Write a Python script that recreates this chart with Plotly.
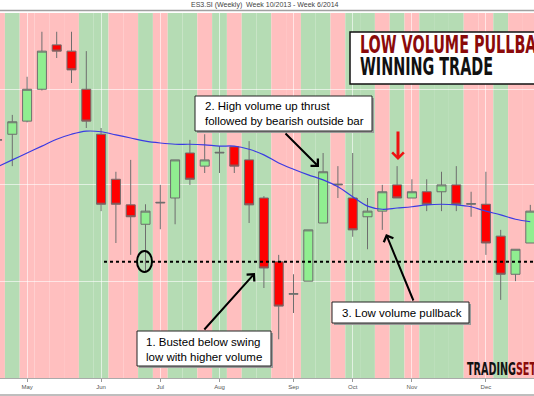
import plotly.graph_objects as go
import pandas as pd

# ---------------- data (weekly, Friday dates) ----------------
week_dates = [
    "2013-04-19", "2013-04-26", "2013-05-03", "2013-05-10", "2013-05-17", "2013-05-24",
    "2013-05-31", "2013-06-07", "2013-06-14", "2013-06-21", "2013-06-28", "2013-07-05",
    "2013-07-12", "2013-07-19", "2013-07-26", "2013-08-02", "2013-08-09", "2013-08-16",
    "2013-08-23", "2013-08-30", "2013-09-06", "2013-09-13", "2013-09-20", "2013-09-27",
    "2013-10-04", "2013-10-11", "2013-10-18", "2013-10-25", "2013-11-01", "2013-11-08",
    "2013-11-15", "2013-11-22", "2013-11-29", "2013-12-06", "2013-12-13", "2013-12-20",
    "2013-12-27",
]
opens = [3.377, 3.386, 3.407, 3.458, 3.529, 3.519, 3.458, 3.386, 3.314, 3.273, 3.242,
         3.276, 3.284, 3.356, 3.335, 3.356, 3.366, 3.345, 3.284, 3.182, 3.130, 3.151,
         3.244, 3.305, 3.284, 3.254, 3.263, 3.305, 3.284, 3.294, 3.294, 3.305, 3.274,
         3.274, 3.223, 3.162, 3.212]
highs = [3.390, 3.417, 3.478, 3.550, 3.550, 3.550, 3.519, 3.396, 3.326, 3.345, 3.274,
         3.305, 3.345, 3.377, 3.386, 3.367, 3.366, 3.375, 3.287, 3.193, 3.162, 3.233,
         3.356, 3.335, 3.356, 3.284, 3.305, 3.335, 3.314, 3.314, 3.326, 3.335, 3.294,
         3.326, 3.233, 3.202, 3.273]
lows = [3.360, 3.335, 3.405, 3.456, 3.508, 3.468, 3.396, 3.263, 3.212, 3.193, 3.167,
        3.234, 3.242, 3.305, 3.324, 3.324, 3.324, 3.244, 3.140, 3.058, 3.100, 3.151,
        3.244, 3.284, 3.222, 3.202, 3.233, 3.284, 3.284, 3.263, 3.263, 3.263, 3.254,
        3.193, 3.121, 3.151, 3.212]
closes = [3.377, 3.406, 3.458, 3.519, 3.519, 3.489, 3.407, 3.274, 3.274, 3.254, 3.263,
          3.277, 3.345, 3.314, 3.345, 3.357, 3.335, 3.273, 3.172, 3.111, 3.131, 3.233,
          3.326, 3.306, 3.233, 3.263, 3.294, 3.284, 3.294, 3.274, 3.305, 3.274, 3.275,
          3.212, 3.162, 3.202, 3.263]
ma_values = [3.334, 3.345, 3.356, 3.367, 3.378, 3.386, 3.391, 3.390, 3.385, 3.380, 3.375,
             3.372, 3.370, 3.370, 3.369, 3.367, 3.367, 3.362, 3.353, 3.340, 3.330, 3.321,
             3.313, 3.302, 3.286, 3.271, 3.266, 3.268, 3.270, 3.273, 3.274, 3.273, 3.270,
             3.263, 3.257, 3.250, 3.246]
volume_up = [0, 1, 0, 0, 0, 0, 1, 1, 0, 0, 1, 0, 1, 1, 0, 1, 0, 1, 1, 0, 0, 1, 1, 0,
             1, 1, 0, 1, 0, 1, 1, 1, 0, 0, 1, 0, 0]
month_ticks = ["2013-05-03", "2013-06-07", "2013-07-05", "2013-08-02",
               "2013-09-06", "2013-10-04", "2013-11-01", "2013-12-06"]
month_labels = ["May", "Jun", "Jul", "Aug", "Sep", "Oct", "Nov", "Dec"]
price_grid = [3.151, 3.305, 3.458]
swing_low = 3.182
y_range = [2.996, 3.580]

# ---------------- layout helpers ----------------
W, H = 534, 396
PT, PB = 13, 18
PH = H - PT - PB


def px(x):
    return x / W


def py(y):
    return (H - PB - y) / PH


PINK = "#FFBFBF"
GREEN = "#B5DCB4"
NARROW = "Liberation Sans Narrow, DejaVu Sans Condensed, Roboto Condensed, Arial Narrow, Liberation Sans, sans-serif"
BODY = "Liberation Sans, Arial, sans-serif"

fig = go.Figure()

fig.add_trace(go.Candlestick(
    x=week_dates, open=opens, high=highs, low=lows, close=closes,
    increasing=dict(fillcolor="#90EE90", line=dict(color="#6E6E6E", width=1)),
    decreasing=dict(fillcolor="#FF0000", line=dict(color="#6E6E6E", width=1)),
    whiskerwidth=0, showlegend=False, hoverinfo="skip",
))
fig.add_trace(go.Scatter(
    x=week_dates, y=ma_values, mode="lines",
    line=dict(color="#3B3BE3", width=1.2, shape="spline"),
    showlegend=False, hoverinfo="skip",
))

shapes = []
half_week = pd.Timedelta(days=3.5)
for d, up in zip(week_dates, volume_up):
    t = pd.Timestamp(d)
    shapes.append(dict(type="rect", xref="x", yref="paper", x0=t - half_week, x1=t + half_week,
                       y0=0, y1=1, fillcolor=GREEN if up else PINK, line=dict(width=0),
                       layer="below"))

# frame lines
shapes.append(dict(type="line", xref="paper", yref="paper", x0=0, x1=1, y0=py(10.5), y1=py(10.5),
                   line=dict(color="#A0A0A0", width=1.5)))
shapes.append(dict(type="line", xref="paper", yref="paper", x0=0, x1=1, y0=py(395), y1=py(395),
                   line=dict(color="#A8A8A8", width=1.5)))

# swing low dotted line + circle
shapes.append(dict(type="line", xref="paper", yref="y", x0=px(104), x1=1, y0=swing_low, y1=swing_low,
                   line=dict(color="black", width=2, dash="dot"), layer="above"))
shapes.append(dict(type="circle", xref="paper", yref="paper", x0=px(137), x1=px(152),
                   y0=py(272), y1=py(251), line=dict(color="black", width=2), layer="above"))


def box(x0, y0, x1, y1, lw=1):
    shapes.append(dict(type="rect", xref="paper", yref="paper", x0=px(x0 + 2), x1=px(x1 + 2),
                       y0=py(y1 + 2), y1=py(y0 + 2), fillcolor="#9A9A9A", line=dict(width=0),
                       layer="above"))
    shapes.append(dict(type="rect", xref="paper", yref="paper", x0=px(x0), x1=px(x1),
                       y0=py(y1), y1=py(y0), fillcolor="white", line=dict(color="#222", width=lw),
                       layer="above"))


box(195, 96, 372, 131)
box(137, 331, 271, 366)
box(332, 302, 469, 323)
shapes.append(dict(type="rect", xref="paper", yref="paper", x0=px(350), x1=px(620),
                   y0=py(84), y1=py(32), fillcolor="white", line=dict(color="#111", width=1.5),
                   layer="above"))

annotations = []


def text(s, x, y, size, color="black", family=BODY, anchor="left", weight="normal"):
    annotations.append(dict(text=s, xref="paper", yref="paper", x=px(x), y=py(y),
                            xanchor=anchor, yanchor="middle", showarrow=False, align="left",
                            font=dict(family=family, size=size, color=color, weight=weight)))


def arrow(hx, hy, tx, ty, color="black", width=2, size=1.0):
    annotations.append(dict(text="", xref="paper", yref="paper", x=px(hx), y=py(hy),
                            ax=tx - hx, ay=ty - hy, axref="pixel", ayref="pixel",
                            showarrow=True, arrowhead=4, arrowsize=size, arrowwidth=width,
                            arrowcolor=color, standoff=0, startstandoff=0))


text("ES3.SI (Weekly)&nbsp;&nbsp;Week 10/2013 - Week 6/2014", 265, 5.5, 7, "#444", BODY, "center")
text("2. High volume up thrust<br>followed by bearish outside bar", 203, 113.5, 11.5)
text("1. Busted below swing<br>low with higher volume", 144, 349, 11.5)
text("3. Low volume pullback", 340, 312.5, 11.5)
text("LOW VOLUME PULLBACK", 358, 45, 24, "#8B0A0A", NARROW, weight="bold")
text("WINNING TRADE", 358, 67, 24, "#111", NARROW, weight="bold")
text("TRADING<span style='color:#8B0A0A'>SET</span>", 465, 368, 18, "#111", NARROW, weight="bold")

arrow(319, 167, 284, 132)
arrow(255, 273, 203, 331)
arrow(386, 234, 414, 302)
arrow(398, 160, 398, 130, color="#EE1111", width=3, size=0.75)

x0 = pd.Timestamp(week_dates[1]) - pd.Timedelta(days=5.82)
x1 = pd.Timestamp(week_dates[-1]) + pd.Timedelta(days=1.75)

fig.update_layout(
    width=W, height=H,
    margin=dict(l=0, r=0, t=PT, b=PB, pad=0),
    paper_bgcolor="white", plot_bgcolor="white",
    shapes=shapes, annotations=annotations,
    boxgap=0.39, boxgroupgap=0,
    showlegend=False,
    xaxis=dict(type="date", range=[x0, x1], tickvals=month_ticks, ticktext=month_labels,
               tickfont=dict(family=BODY, size=6, color="#555"), ticks="outside", ticklen=3,
               tickcolor="#999", showline=True, linecolor="#AAA", linewidth=1,
               showgrid=True, gridcolor="rgba(255,255,255,0.6)", gridwidth=1,
               rangeslider=dict(visible=False), zeroline=False, fixedrange=True),
    yaxis=dict(range=y_range, tickvals=price_grid, showticklabels=False, showgrid=True,
               gridcolor="rgba(255,255,255,0.6)", gridwidth=1, zeroline=False, ticks="",
               fixedrange=True),
)

# Page without body margin; condense the headline texts (no condensed face is installed)
post_js = """
document.body.style.margin = '0';
var els = Array.prototype.slice.call(document.querySelectorAll('text.annotation-text'));
function find(t) { for (var i = 0; i < els.length; i++) { if (els[i].textContent === t) return els[i]; } return null; }
var w = find('WINNING TRADE'), l = find('LOW VOLUME PULLBACK'), tr = find('TRADINGSET');
if (w && l) {
  var s = 133 / w.getComputedTextLength();
  var lw = l.getComputedTextLength() * s;
  w.setAttribute('textLength', 133); w.setAttribute('lengthAdjust', 'spacingAndGlyphs');
  l.setAttribute('textLength', lw); l.setAttribute('lengthAdjust', 'spacingAndGlyphs');
}
if (tr) { tr.setAttribute('textLength', 69); tr.setAttribute('lengthAdjust', 'spacingAndGlyphs'); }
"""

fig.write_html("out.html", post_script=post_js, config={"displayModeBar": False, "staticPlot": True})
